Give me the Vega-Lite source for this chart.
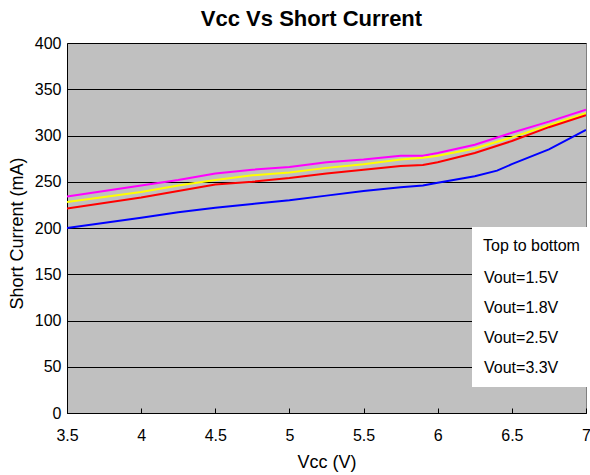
{
  "$schema": "https://vega.github.io/schema/vega-lite/v6.json",
  "width": 519,
  "height": 370,
  "autosize": {"type": "none"},
  "padding": {"left": 67, "top": 43, "right": 4, "bottom": 62},
  "background": "white",
  "title": {"text": "Vcc Vs Short Current", "fontSize": 22, "fontWeight": "bold", "font": "Liberation Sans", "color": "black", "anchor": "middle", "dx": -15, "offset": 4},
  "data": {"values": [
    {"vcc": 3.5, "current": 234, "series": "Vout=1.5V"},
    {"vcc": 4.0, "current": 246, "series": "Vout=1.5V"},
    {"vcc": 4.25, "current": 252, "series": "Vout=1.5V"},
    {"vcc": 4.5, "current": 259, "series": "Vout=1.5V"},
    {"vcc": 4.75, "current": 263, "series": "Vout=1.5V"},
    {"vcc": 5.0, "current": 266, "series": "Vout=1.5V"},
    {"vcc": 5.25, "current": 271, "series": "Vout=1.5V"},
    {"vcc": 5.5, "current": 274, "series": "Vout=1.5V"},
    {"vcc": 5.75, "current": 278, "series": "Vout=1.5V"},
    {"vcc": 5.9, "current": 278, "series": "Vout=1.5V"},
    {"vcc": 6.0, "current": 281, "series": "Vout=1.5V"},
    {"vcc": 6.25, "current": 290, "series": "Vout=1.5V"},
    {"vcc": 6.5, "current": 303, "series": "Vout=1.5V"},
    {"vcc": 6.75, "current": 315, "series": "Vout=1.5V"},
    {"vcc": 7.0, "current": 328, "series": "Vout=1.5V"},
    {"vcc": 3.5, "current": 228, "series": "Vout=1.8V"},
    {"vcc": 4.0, "current": 239, "series": "Vout=1.8V"},
    {"vcc": 4.25, "current": 246, "series": "Vout=1.8V"},
    {"vcc": 4.5, "current": 252, "series": "Vout=1.8V"},
    {"vcc": 4.75, "current": 257, "series": "Vout=1.8V"},
    {"vcc": 5.0, "current": 260, "series": "Vout=1.8V"},
    {"vcc": 5.25, "current": 265, "series": "Vout=1.8V"},
    {"vcc": 5.5, "current": 269, "series": "Vout=1.8V"},
    {"vcc": 5.75, "current": 274, "series": "Vout=1.8V"},
    {"vcc": 5.9, "current": 276, "series": "Vout=1.8V"},
    {"vcc": 6.0, "current": 278, "series": "Vout=1.8V"},
    {"vcc": 6.25, "current": 286, "series": "Vout=1.8V"},
    {"vcc": 6.5, "current": 298, "series": "Vout=1.8V"},
    {"vcc": 6.75, "current": 311, "series": "Vout=1.8V"},
    {"vcc": 7.0, "current": 324, "series": "Vout=1.8V"},
    {"vcc": 3.5, "current": 221, "series": "Vout=2.5V"},
    {"vcc": 4.0, "current": 233, "series": "Vout=2.5V"},
    {"vcc": 4.25, "current": 240, "series": "Vout=2.5V"},
    {"vcc": 4.5, "current": 247, "series": "Vout=2.5V"},
    {"vcc": 4.75, "current": 250, "series": "Vout=2.5V"},
    {"vcc": 5.0, "current": 254, "series": "Vout=2.5V"},
    {"vcc": 5.25, "current": 259, "series": "Vout=2.5V"},
    {"vcc": 5.5, "current": 263, "series": "Vout=2.5V"},
    {"vcc": 5.75, "current": 267, "series": "Vout=2.5V"},
    {"vcc": 5.9, "current": 268, "series": "Vout=2.5V"},
    {"vcc": 6.0, "current": 271, "series": "Vout=2.5V"},
    {"vcc": 6.25, "current": 281, "series": "Vout=2.5V"},
    {"vcc": 6.5, "current": 294, "series": "Vout=2.5V"},
    {"vcc": 6.75, "current": 309, "series": "Vout=2.5V"},
    {"vcc": 7.0, "current": 322, "series": "Vout=2.5V"},
    {"vcc": 3.5, "current": 200, "series": "Vout=3.3V"},
    {"vcc": 4.0, "current": 211, "series": "Vout=3.3V"},
    {"vcc": 4.25, "current": 217, "series": "Vout=3.3V"},
    {"vcc": 4.5, "current": 222, "series": "Vout=3.3V"},
    {"vcc": 4.75, "current": 226, "series": "Vout=3.3V"},
    {"vcc": 5.0, "current": 230, "series": "Vout=3.3V"},
    {"vcc": 5.25, "current": 235, "series": "Vout=3.3V"},
    {"vcc": 5.5, "current": 240, "series": "Vout=3.3V"},
    {"vcc": 5.75, "current": 244, "series": "Vout=3.3V"},
    {"vcc": 5.9, "current": 246, "series": "Vout=3.3V"},
    {"vcc": 6.0, "current": 249, "series": "Vout=3.3V"},
    {"vcc": 6.25, "current": 256, "series": "Vout=3.3V"},
    {"vcc": 6.4, "current": 262, "series": "Vout=3.3V"},
    {"vcc": 6.5, "current": 269, "series": "Vout=3.3V"},
    {"vcc": 6.75, "current": 285, "series": "Vout=3.3V"},
    {"vcc": 7.0, "current": 306, "series": "Vout=3.3V"}
  ]},
  "mark": {"type": "line", "strokeWidth": 2, "clip": true},
  "encoding": {
    "x": {
      "field": "vcc", "type": "quantitative",
      "scale": {"domain": [3.5, 7], "nice": false, "zero": false},
      "axis": {"title": "Vcc (V)", "values": [3.5, 4, 4.5, 5, 5.5, 6, 6.5, 7], "format": "~g", "grid": false, "tickSize": -5, "tickColor": "black", "labelPadding": 19, "titlePadding": 10, "labelFlush": false}
    },
    "y": {
      "field": "current", "type": "quantitative",
      "scale": {"domain": [0, 400], "nice": false},
      "axis": {"title": "Short Current (mA)", "values": [0, 50, 100, 150, 200, 250, 300, 350, 400], "ticks": false, "labelPadding": 6, "titlePadding": 8, "titleY": 190, "grid": true, "gridColor": "black", "gridOpacity": 1, "labelFlush": false}
    },
    "color": {
      "field": "series", "type": "nominal",
      "scale": {"domain": ["Vout=1.5V", "Vout=1.8V", "Vout=2.5V", "Vout=3.3V"], "range": ["#FF00FF", "#FFFF00", "#FF0000", "#0000FF"]},
      "legend": {"orient": "none", "legendX": 405, "legendY": 184, "title": "Top to bottom", "fillColor": "white", "padding": 11, "titleFontSize": 16, "titleFontWeight": "normal", "titleFont": "Liberation Sans", "titleColor": "black", "labelFont": "Liberation Sans", "labelFontSize": 16, "labelColor": "black", "symbolSize": 1, "symbolOpacity": 0, "symbolStrokeWidth": 0, "labelOffset": -15, "rowPadding": 14, "titlePadding": 16, "labelLimit": 200}
    }
  },
  "config": {
    "view": {"fill": "#C0C0C0", "stroke": "#808080"},
    "axis": {"labelFont": "Liberation Sans", "titleFont": "Liberation Sans", "labelFontSize": 16, "titleFontSize": 18, "labelColor": "black", "titleColor": "black", "titleFontWeight": "normal", "domainColor": "black"}
  }
}
